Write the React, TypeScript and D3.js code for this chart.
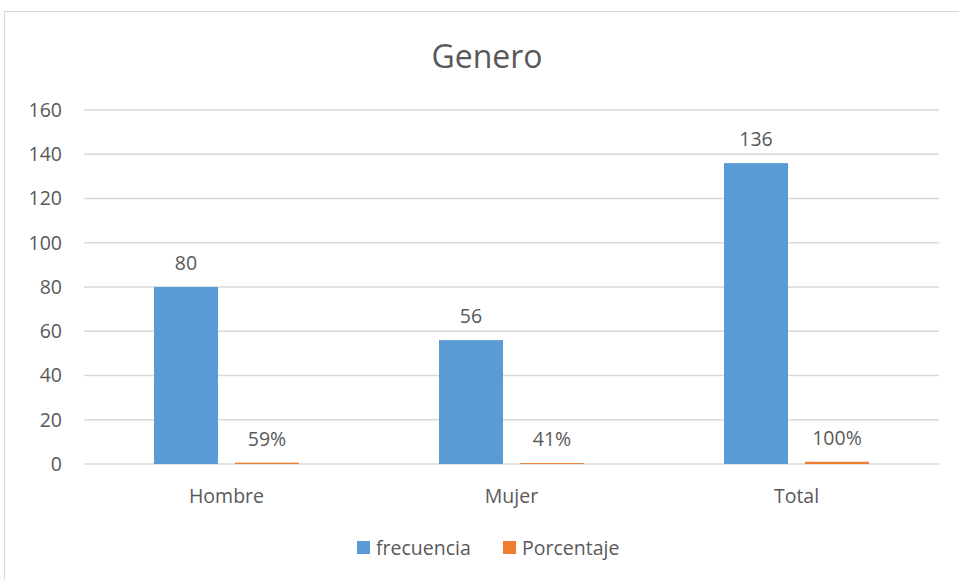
import React, { useEffect, useRef } from "react";
import * as d3 from "d3";

const categories = ["Hombre", "Mujer", "Total"];
const frecuencia = [80, 56, 136];
const porcentaje = [0.59, 0.41, 1];
const seriesNames = ["frecuencia", "Porcentaje"];
const yTicks = [0, 20, 40, 60, 80, 100, 120, 140, 160];

const W = 959;
const H = 580;
const FONT = "'Open Sans', 'Liberation Sans', sans-serif";
const TXT = "#595959";
const COLORS = ["#5B9BD5", "#ED7D31"];

export default function App() {
  const ref = useRef<SVGSVGElement>(null);

  useEffect(() => {
    const svg = d3.select(ref.current);
    svg.selectAll("*").remove();

    const margin = { top: 110, left: 84, right: 20, bottom: 116 };
    const plotW = 939 - margin.left;
    const plotH = 464 - margin.top;

    // chart frame
    svg.append("rect")
      .attr("x", 4.5).attr("y", 11.5)
      .attr("width", W + 10).attr("height", H + 10)
      .attr("fill", "#fff").attr("stroke", "#d9d9d9");

    svg.append("text")
      .attr("x", 487).attr("y", 68)
      .attr("text-anchor", "middle")
      .style("font-family", FONT).style("font-size", "32px")
      .style("fill", TXT)
      .text("Genero");

    const g = svg.append("g").attr("transform", "translate(" + [margin.left, margin.top] + ")");

    const x = d3.scaleBand().domain(categories).range([0, plotW]);
    const y = d3.scaleLinear().domain([0, 160]).range([plotH, 0]);
    const inner = d3.scaleBand().domain(seriesNames).range([-72.5, 72.5]).paddingInner(17 / 81);

    g.selectAll(".grid").data(yTicks).enter().append("line")
      .attr("x1", 0).attr("x2", plotW)
      .attr("y1", d => y(d)).attr("y2", d => y(d))
      .attr("stroke", "#d9d9d9").attr("stroke-width", 1.3);

    g.selectAll(".ytick").data(yTicks).enter().append("text")
      .attr("x", -22).attr("y", d => y(d))
      .attr("dy", "0.35em")
      .attr("text-anchor", "end")
      .style("font-family", FONT).style("font-size", "19.5px").style("fill", TXT)
      .text(d => d);

    g.selectAll(".xlab").data(categories).enter().append("text")
      .attr("x", d => x(d)! + x.bandwidth() / 2)
      .attr("y", plotH + 39)
      .attr("text-anchor", "middle")
      .style("font-family", FONT).style("font-size", "19.5px").style("fill", TXT)
      .text(d => d);

    const series = [frecuencia, porcentaje];
    series.forEach((vals, si) => {
      const name = seriesNames[si];
      const grp = g.append("g");
      grp.selectAll("rect").data(vals).enter().append("rect")
        .attr("x", (d, i) => x(categories[i])! + x.bandwidth() / 2 + inner(name)!)
        .attr("width", inner.bandwidth())
        .attr("y", d => y(d))
        .attr("height", d => plotH - y(d))
        .attr("fill", COLORS[si]);
      grp.selectAll("text").data(vals).enter().append("text")
        .attr("x", (d, i) => x(categories[i])! + x.bandwidth() / 2 + inner(name)! + inner.bandwidth() / 2)
        .attr("y", d => y(d) - 17)
        .attr("text-anchor", "middle")
        .style("font-family", FONT).style("font-size", "19.5px").style("fill", TXT)
        .text(d => si === 1 ? Math.round(d * 100) + "%" : String(d));
    });

    // legend
    const legend = svg.append("g");
    const items = [{ x: 357, t: "frecuencia" }, { x: 503, t: "Porcentaje" }];
    items.forEach((it, i) => {
      legend.append("rect")
        .attr("x", it.x).attr("y", 541).attr("width", 13).attr("height", 13)
        .attr("fill", COLORS[i]);
      legend.append("text")
        .attr("x", it.x + 19).attr("y", 555)
        .style("font-family", FONT).style("font-size", "19.5px").style("fill", TXT)
        .text(it.t);
    });
  }, []);

  return (
    <div style={{ position: "fixed", left: 0, top: 0 }}>
      <svg ref={ref} width={W} height={H} style={{ display: "block", background: "#fff" }} />
    </div>
  );
}
